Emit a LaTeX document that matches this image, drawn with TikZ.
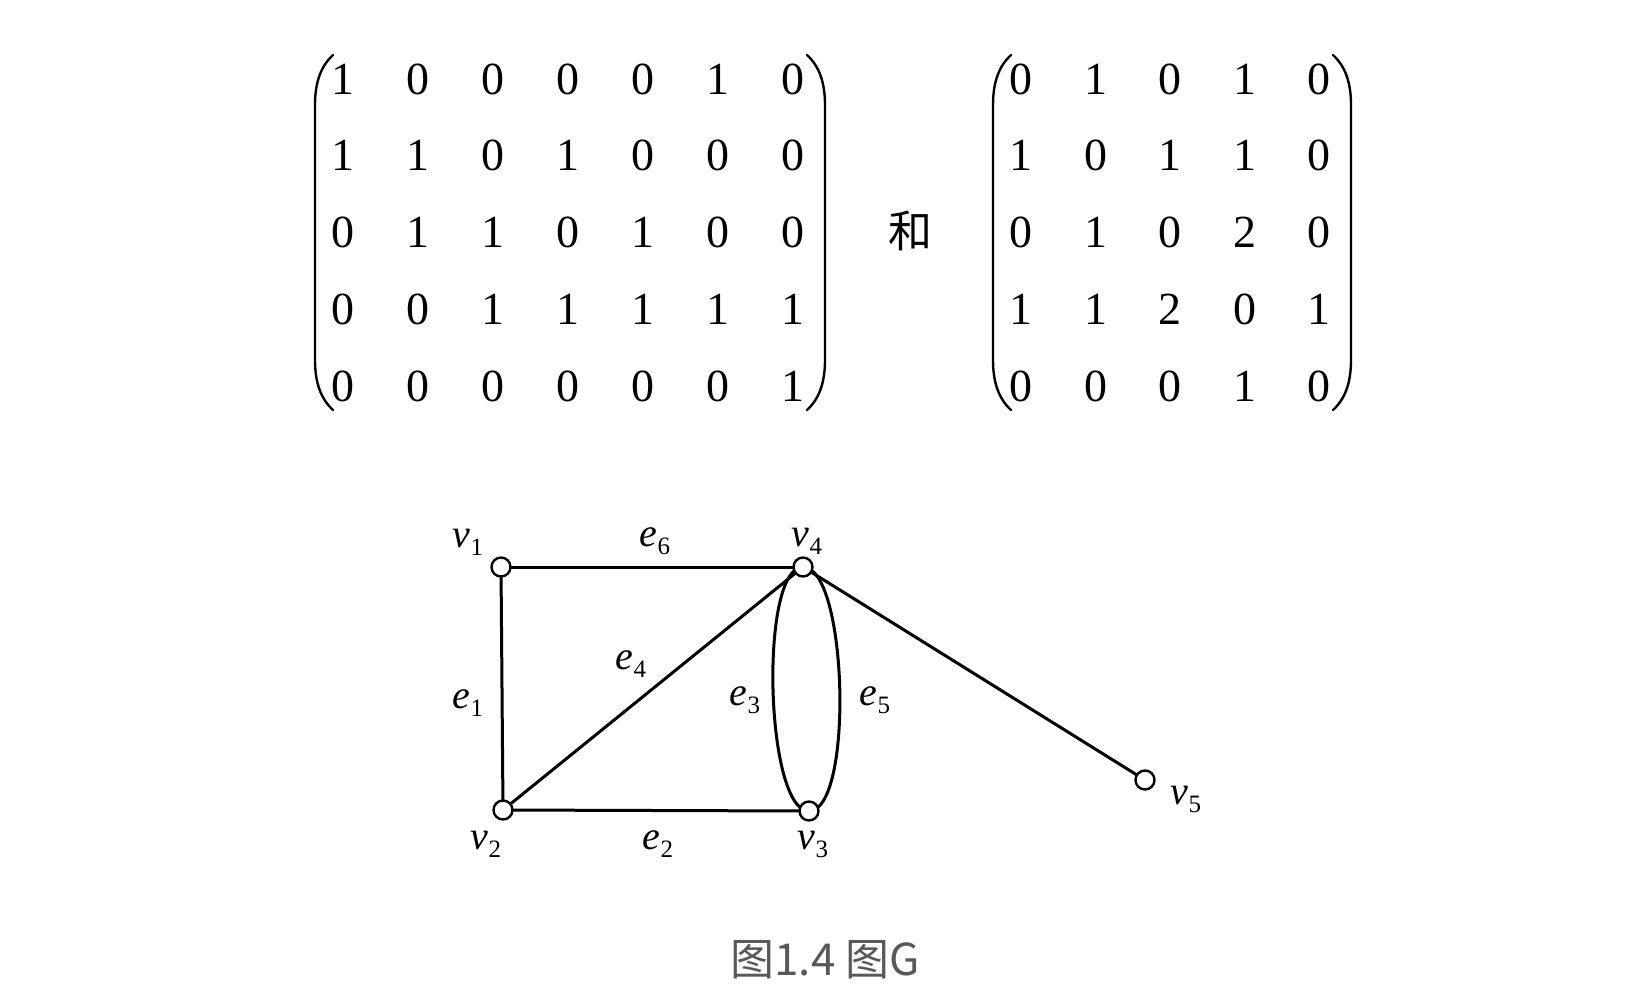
\documentclass[tikz,border=0pt]{standalone}
\usepackage{fontspec}
\setmainfont{Liberation Serif}
\newfontfamily\cjk{Noto Sans CJK SC}
\usetikzlibrary{backgrounds}
\definecolor{captiongray}{RGB}{88,88,88}
\newcommand\glab[2]{\textit{#1}\raisebox{-8pt}{\fontsize{25}{25}\selectfont #2}}
\newcommand\drawLP[1]{\draw[paren] (#1+18,55) .. controls (#1+6,66) and (#1,82) .. (#1,105) -- (#1,360) .. controls (#1,383) and (#1+6,399) .. (#1+18,410);}
\newcommand\drawRP[1]{\draw[paren] (#1-18,55) .. controls (#1-6,66) and (#1,82) .. (#1,105) -- (#1,360) .. controls (#1,383) and (#1-6,399) .. (#1-18,410);}
\tikzset{
  vert/.style={circle, draw, fill=white, line width=2.4pt, minimum size=19pt, inner sep=0pt},
  edge/.style={line width=3pt},
  glabel/.style={anchor=base, inner sep=0pt, font=\fontsize{40}{40}\selectfont},
  digit/.style={inner sep=0pt, font=\fontsize{46}{46}\selectfont},
  paren/.style={line width=2.4pt, line cap=round}
}
\begin{document}
\begin{tikzpicture}[x=1pt,y=-1pt]
\useasboundingbox (0,0) rectangle (1641,997);
% left matrix
\foreach \rowvals [count=\r] in {{1,0,0,0,0,1,0},{1,1,0,1,0,0,0},{0,1,1,0,1,0,0},{0,0,1,1,1,1,1},{0,0,0,0,0,0,1}}{
  \foreach \val [count=\c] in \rowvals {
    \node[digit] (A-\r-\c) at ({343+75*(\c-1)},{79+76.75*(\r-1)}) {\val};
  }
}
\drawLP{315}
\drawRP{825}
% conjunction
\node[font=\cjk\fontsize{44}{44}\selectfont, inner sep=0pt] (he) at (910,231) {和};
% right matrix
\foreach \rowvals [count=\r] in {{0,1,0,1,0},{1,0,1,1,0},{0,1,0,2,0},{1,1,2,0,1},{0,0,0,1,0}}{
  \foreach \val [count=\c] in \rowvals {
    \node[digit] (B-\r-\c) at ({1021+74.5*(\c-1)},{79+76.75*(\r-1)}) {\val};
  }
}
\drawLP{993}
\drawRP{1351}
% graph vertices
\node[vert] (v1) at (501,567) {};
\node[vert] (v2) at (503,810) {};
\node[vert] (v3) at (809,811) {};
\node[vert] (v4) at (803,567) {};
\node[vert] (v5) at (1145,780) {};
% edges
\begin{scope}[on background layer]
  \draw[edge] (v1.center) -- (v4.center);
  \draw[edge] (v1.center) -- (v2.center);
  \draw[edge] (v2.center) -- (v4.center);
  \draw[edge] (v2.center) -- (v3.center);
  \draw[edge] (v4.center) -- (v5.center);
  \draw[edge] (v4.center) .. controls +(-44,0) and +(-44,0) .. (v3.center);
  \draw[edge] (v4.center) .. controls +(45,0) and +(45,0) .. (v3.center);
\end{scope}
% labels
\node[glabel] (lv1) at (468,547) {\glab{v}{1}};
\node[glabel] (lv4) at (807,546) {\glab{v}{4}};
\node[glabel] (lv2) at (486,849) {\glab{v}{2}};
\node[glabel] (lv3) at (813,849) {\glab{v}{3}};
\node[glabel] (lv5) at (1186,804) {\glab{v}{5}};
\node[glabel] (le6) at (655,546) {\glab{e}{6}};
\node[glabel] (le2) at (658,849) {\glab{e}{2}};
\node[glabel] (le1) at (468,708) {\glab{e}{1}};
\node[glabel] (le4) at (631,669) {\glab{e}{4}};
\node[glabel] (le3) at (745,705) {\glab{e}{3}};
\node[glabel] (le5) at (875,705) {\glab{e}{5}};
% caption
\node[font=\cjk\fontsize{44}{44}\selectfont, text=captiongray, inner sep=0pt] (cap) at (825,960) {图1.4 图G};
\end{tikzpicture}
\end{document}
